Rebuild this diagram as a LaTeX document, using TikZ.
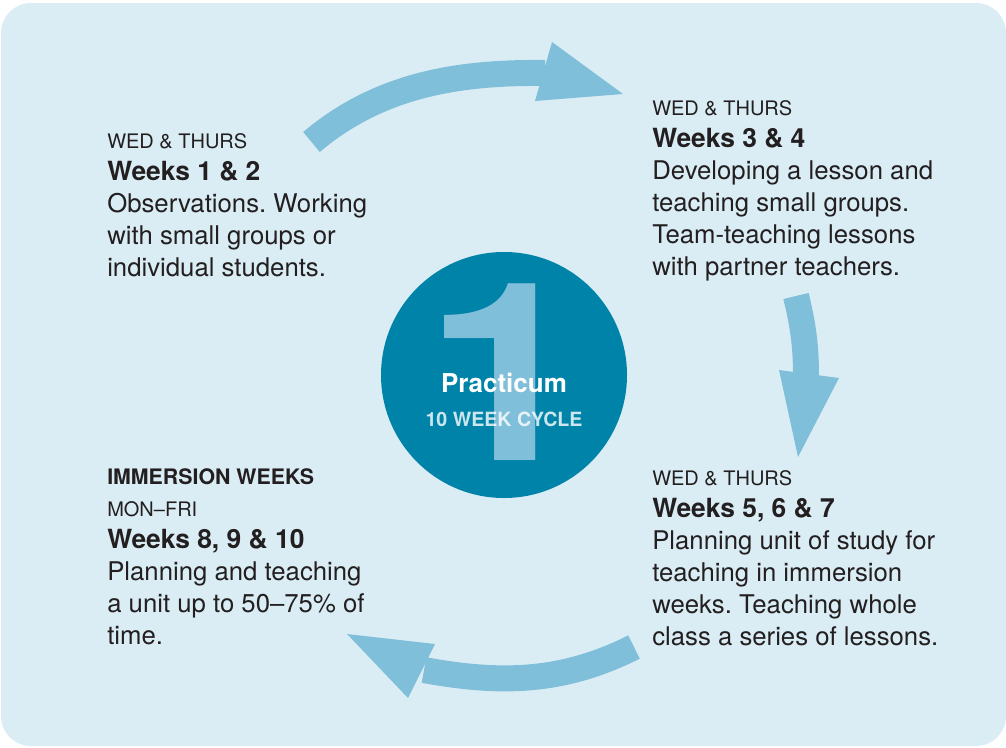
\documentclass[tikz,border=0pt]{standalone}
\usepackage{fontspec}
\setmainfont{TeX Gyre Heros}
\frenchspacing

\definecolor{panel}{RGB}{218,237,245}
\definecolor{flow}{RGB}{128,191,217}
\definecolor{disc}{RGB}{0,131,168}
\definecolor{ink}{RGB}{35,31,32}

\newcommand{\dayrow}[1]{{\fontsize{15}{24}\selectfont #1}}
\newcommand{\weekrow}[1]{{\bfseries\fontsize{19.8}{24}\selectfont #1}}

% blocks hang on the baseline of their last line
\tikzset{
    block/.style={anchor=base west, align=left, inner sep=0pt, text=ink,
        font=\fontsize{19.3}{24}\selectfont},
    band/.style={draw=flow, line width=19.5pt},
    head/.style={fill=flow},
}

\begin{document}
\begin{tikzpicture}[x=0.75pt,y=-0.75pt]
    \useasboundingbox (0,0) rectangle (1006,747);
    \fill[white] (0,0) rectangle (1006,747);
    \fill[panel, rounded corners=22.5pt] (1,3) rectangle (1006,746);

    % DISC IN THE MIDDLE
    \node[circle, fill=disc, minimum size=184.5pt, inner sep=0pt] (disc) at (504,375) {};
    \node[anchor=base, inner sep=0pt, text=flow, xscale=1.18,
        font=\bfseries\fontsize{187}{187}\selectfont] (one) at (506,460) {1};
    \node[anchor=base, inner sep=0pt, text=white,
        font=\bfseries\fontsize{19.5}{24}\selectfont] (title) at (504,392) {Practicum};
    \node[anchor=base, inner sep=0pt, text=white, text opacity=0.8,
        font=\bfseries\fontsize{14.7}{18}\selectfont] (cycle) at (504,426) {10 WEEK CYCLE};

    % FOUR STAGES
    \node[block] (wk12) at (107,276) {\dayrow{WED \& THURS}\\
        \weekrow{Weeks 1 \& 2}\\
        Observations. Working\\
        with small groups or\\
        individual students.};
    \node[block] (wk34) at (652,275) {\dayrow{WED \& THURS}\\
        \weekrow{Weeks 3 \& 4}\\
        Developing a lesson and\\
        teaching small groups.\\
        Team-teaching lessons\\
        with partner teachers.};
    \node[block] (wk567) at (652,645) {\dayrow{WED \& THURS}\\
        \weekrow{Weeks 5, 6 \& 7}\\
        Planning unit of study for\\
        teaching in immersion\\
        weeks. Teaching whole\\
        class a series of lessons.};
    \node[block] (wk810) at (107,644) {{\bfseries\fontsize{16}{24}\selectfont IMMERSION WEEKS}\\
        \dayrow{MON--FRI}\\
        \weekrow{Weeks 8, 9 \& 10}\\
        Planning and teaching\\
        a unit up to 50--75\% of\\
        time.};

    % ARROWS ROUND THE DISC
    \coordinate (t1) at (311.5,142);
    \coordinate (h1) at (545,73);
    \draw[band] (t1) .. controls (380,84) and (460,72) .. (h1);
    \fill[head] (552,42) -- (623,94) -- (535,101) -- cycle;

    \coordinate (t2) at (796,296);
    \coordinate (h2) at (806,376);
    \draw[band] (t2) .. controls (803,325) and (806,345) .. (h2);
    \fill[head] (779,370) -- (798,457) -- (839,378) -- cycle;

    \coordinate (t3) at (634,647);
    \coordinate (h3) at (424,670);
    \draw[band] (t3) .. controls (562.5,683) and (500,684) .. (h3);
    \fill[head] (435,644) -- (347,634) -- (408,698) -- cycle;
\end{tikzpicture}
\end{document}
